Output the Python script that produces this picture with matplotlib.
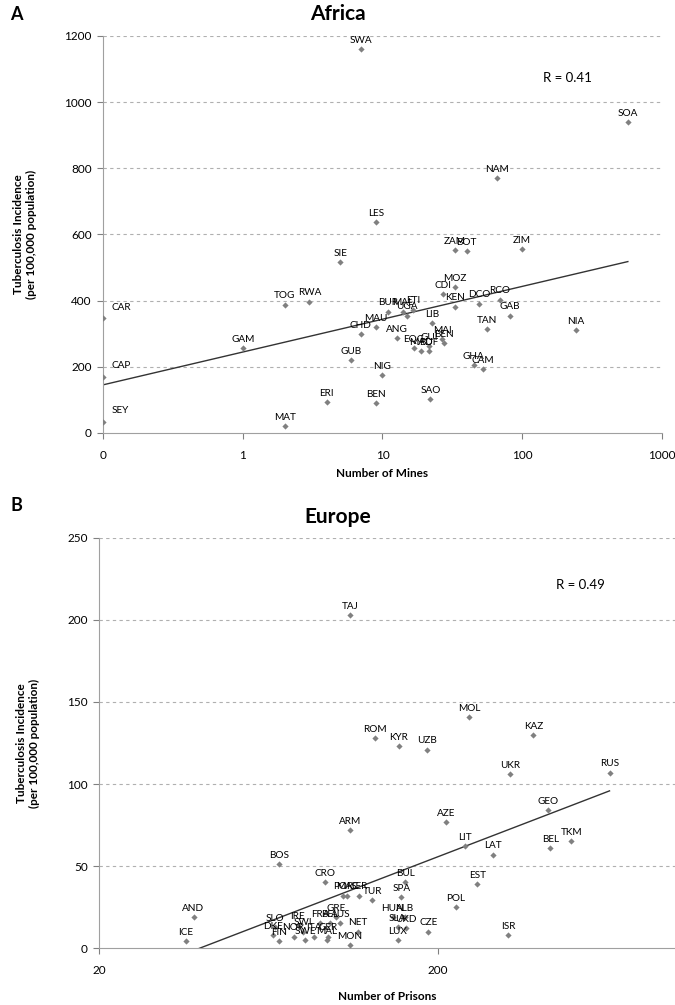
import numpy as np
import matplotlib
matplotlib.use('Agg')
import matplotlib.pyplot as plt

plt.rcParams['font.family'] = ['Lato', 'DejaVu Sans']

# Africa: number of mines vs TB incidence (0 mines plotted at 0.1 on the log axis)
africa_labels = ['SWA', 'SOA', 'NAM', 'LES', 'SIE', 'ZAM', 'BOT', 'ZIM', 'TOG', 'RWA',
                 'CAR', 'CAP', 'SEY', 'GAM', 'MAT', 'ERI', 'BEN', 'GUB', 'CHD', 'MAU',
                 'NIG', 'BUR', 'UGA', 'MAL', 'ETI', 'MOZ', 'CDI', 'KEN', 'DCO', 'RCO',
                 'GAB', 'TAN', 'NIA', 'GHA', 'CAM', 'SAO', 'LIB', 'MAI', 'BEN', 'ANG',
                 'EQG', 'MAD', 'BUF', 'GUI']
africa_mines = [7, 570, 66, 9, 5, 33, 40, 100, 2, 3,
                0.1, 0.1, 0.1, 1, 2, 4, 9, 6, 7, 9,
                10, 11, 15, 14, 16.5, 33, 27, 33, 49, 69,
                82, 56, 243, 45, 52, 22, 22.6, 26.7, 27.6, 12.7,
                16.8, 18.9, 21.6, 21.6]
africa_tb = [1160, 940, 770, 638, 517, 553, 550, 556, 388, 397,
             346, 168, 33, 256, 21, 93, 90, 220, 298, 319,
             174, 367, 355, 367, 373, 442, 421, 382, 391, 403,
             355, 313, 310, 205, 192, 102, 331, 283, 271, 286,
             256, 247, 247, 262]

# Europe: number of prisons vs TB incidence
europe_labels = ['TAJ', 'MOL', 'KAZ', 'ROM', 'KYR', 'UZB', 'UKR', 'RUS', 'GEO', 'AZE',
                 'ARM', 'LIT', 'LAT', 'BEL', 'TKM', 'BOS', 'CRO', 'BUL', 'EST', 'SPA',
                 'TUR', 'POR', 'MAC', 'SER', 'POL', 'HUN', 'ALB', 'SLA', 'UKD', 'CZE',
                 'ISR', 'LUX', 'NET', 'MON', 'AND', 'ICE', 'SLO', 'DKE', 'FIN', 'IRE',
                 'SWI', 'NOR', 'ITA', 'SWE', 'GER', 'MAL', 'GRE', 'FRA', 'BEL', 'AUS']
europe_prisons = [110, 247, 382, 130, 153, 185, 327, 641, 421, 211,
                  110, 240, 291, 429, 495, 68, 93, 160, 261, 156,
                  128, 105, 108, 117, 226, 147, 160, 152, 161, 187,
                  322, 152, 116, 110, 38, 36, 66, 65, 68, 77,
                  80, 75, 86, 81, 95, 94, 100, 90, 96, 103]
europe_tb = [203, 141, 130, 128, 123, 121, 106, 107, 84, 77,
             72, 62, 57, 61, 65, 51, 40, 40, 39, 31,
             29, 32, 32, 32, 25, 19, 19, 13, 12, 10,
             8, 5, 10, 2, 19, 4, 13, 8, 4, 14,
             10, 7, 7, 5, 7, 5, 19, 15, 15, 15]

grey = '#808080'


def draw_panel(ax, x, y, labels, xlim, xticks, xticklabels, ylim, yticks, xlabel,
               xlabelpad, r_text, r_pos):
    ax.set_xscale('log')
    for yt in yticks[1:]:
        ax.axhline(yt, color='#b0b0b0', lw=0.8, ls=(0, (3, 3)), zorder=0)
    ax.scatter(x, y, marker='D', s=10, color=grey, zorder=3, linewidths=0)

    # logarithmic trendline fitted on the data
    b, a = np.polyfit(np.log10(x), y, 1)
    xs = np.logspace(np.log10(min(x)), np.log10(max(x)), 50)
    ax.plot(xs, a + b * np.log10(xs), color='#333333', lw=1.0, zorder=2)

    for xi, yi, lab in zip(x, y, labels):
        if xi == xlim[0]:
            ax.annotate(lab, (xi, yi), xytext=(6, 5), textcoords='offset points',
                        ha='left', va='bottom', fontsize=7.2)
        else:
            ax.annotate(lab, (xi, yi), xytext=(0, 3), textcoords='offset points',
                        ha='center', va='bottom', fontsize=7.2)

    ax.set_xlim(xlim)
    ax.set_ylim(ylim)
    ax.set_xticks(xticks)
    ax.set_xticklabels(xticklabels)
    ax.xaxis.set_minor_locator(matplotlib.ticker.NullLocator())
    ax.set_yticks(yticks)
    ax.tick_params(labelsize=8.5, length=4, color=grey, pad=8)
    ax.tick_params(axis='y', pad=4)
    for s in ['top', 'right']:
        ax.spines[s].set_visible(False)
    for s in ['left', 'bottom']:
        ax.spines[s].set_color('#a0a0a0')
    ax.set_xlabel(xlabel, fontsize=8.5, fontweight='bold', labelpad=xlabelpad)
    ax.set_ylabel('Tuberculosis Incidence\n(per 100,000 population)', fontsize=8.5,
                  fontweight='bold', labelpad=20)
    ax.text(r_pos[0], r_pos[1], r_text, transform=ax.transAxes, fontsize=9.5, ha='center')


fig = plt.figure(figsize=(6.75, 10.05), dpi=100)
ax1 = fig.add_axes([0.1526, 0.5692, 0.8281, 0.395])
ax2 = fig.add_axes([0.1467, 0.0567, 0.8533, 0.408])

draw_panel(ax1, africa_mines, africa_tb, africa_labels, (0.1, 1000),
           [0.1, 1, 10, 100, 1000], ['0', '1', '10', '100', '1000'],
           (0, 1200), list(range(0, 1201, 200)), 'Number of Mines', 5,
           'R = 0.41', (0.83, 0.885))
draw_panel(ax2, europe_prisons, europe_tb, europe_labels, (20, 1000),
           [20, 200], ['20', '200'],
           (0, 250), list(range(0, 251, 50)), 'Number of Prisons', 11,
           'R = 0.49', (0.835, 0.875))

fig.text(0.5, 0.986, 'Africa', fontsize=15, fontweight='bold', ha='center', va='center')
fig.text(0.015, 0.986, 'A', fontsize=13, fontweight='bold', ha='left', va='center')
fig.text(0.5, 0.486, 'Europe', fontsize=15, fontweight='bold', ha='center', va='center')
fig.text(0.015, 0.497, 'B', fontsize=13, fontweight='bold', ha='left', va='center')

fig.savefig('out.png', dpi=100)
